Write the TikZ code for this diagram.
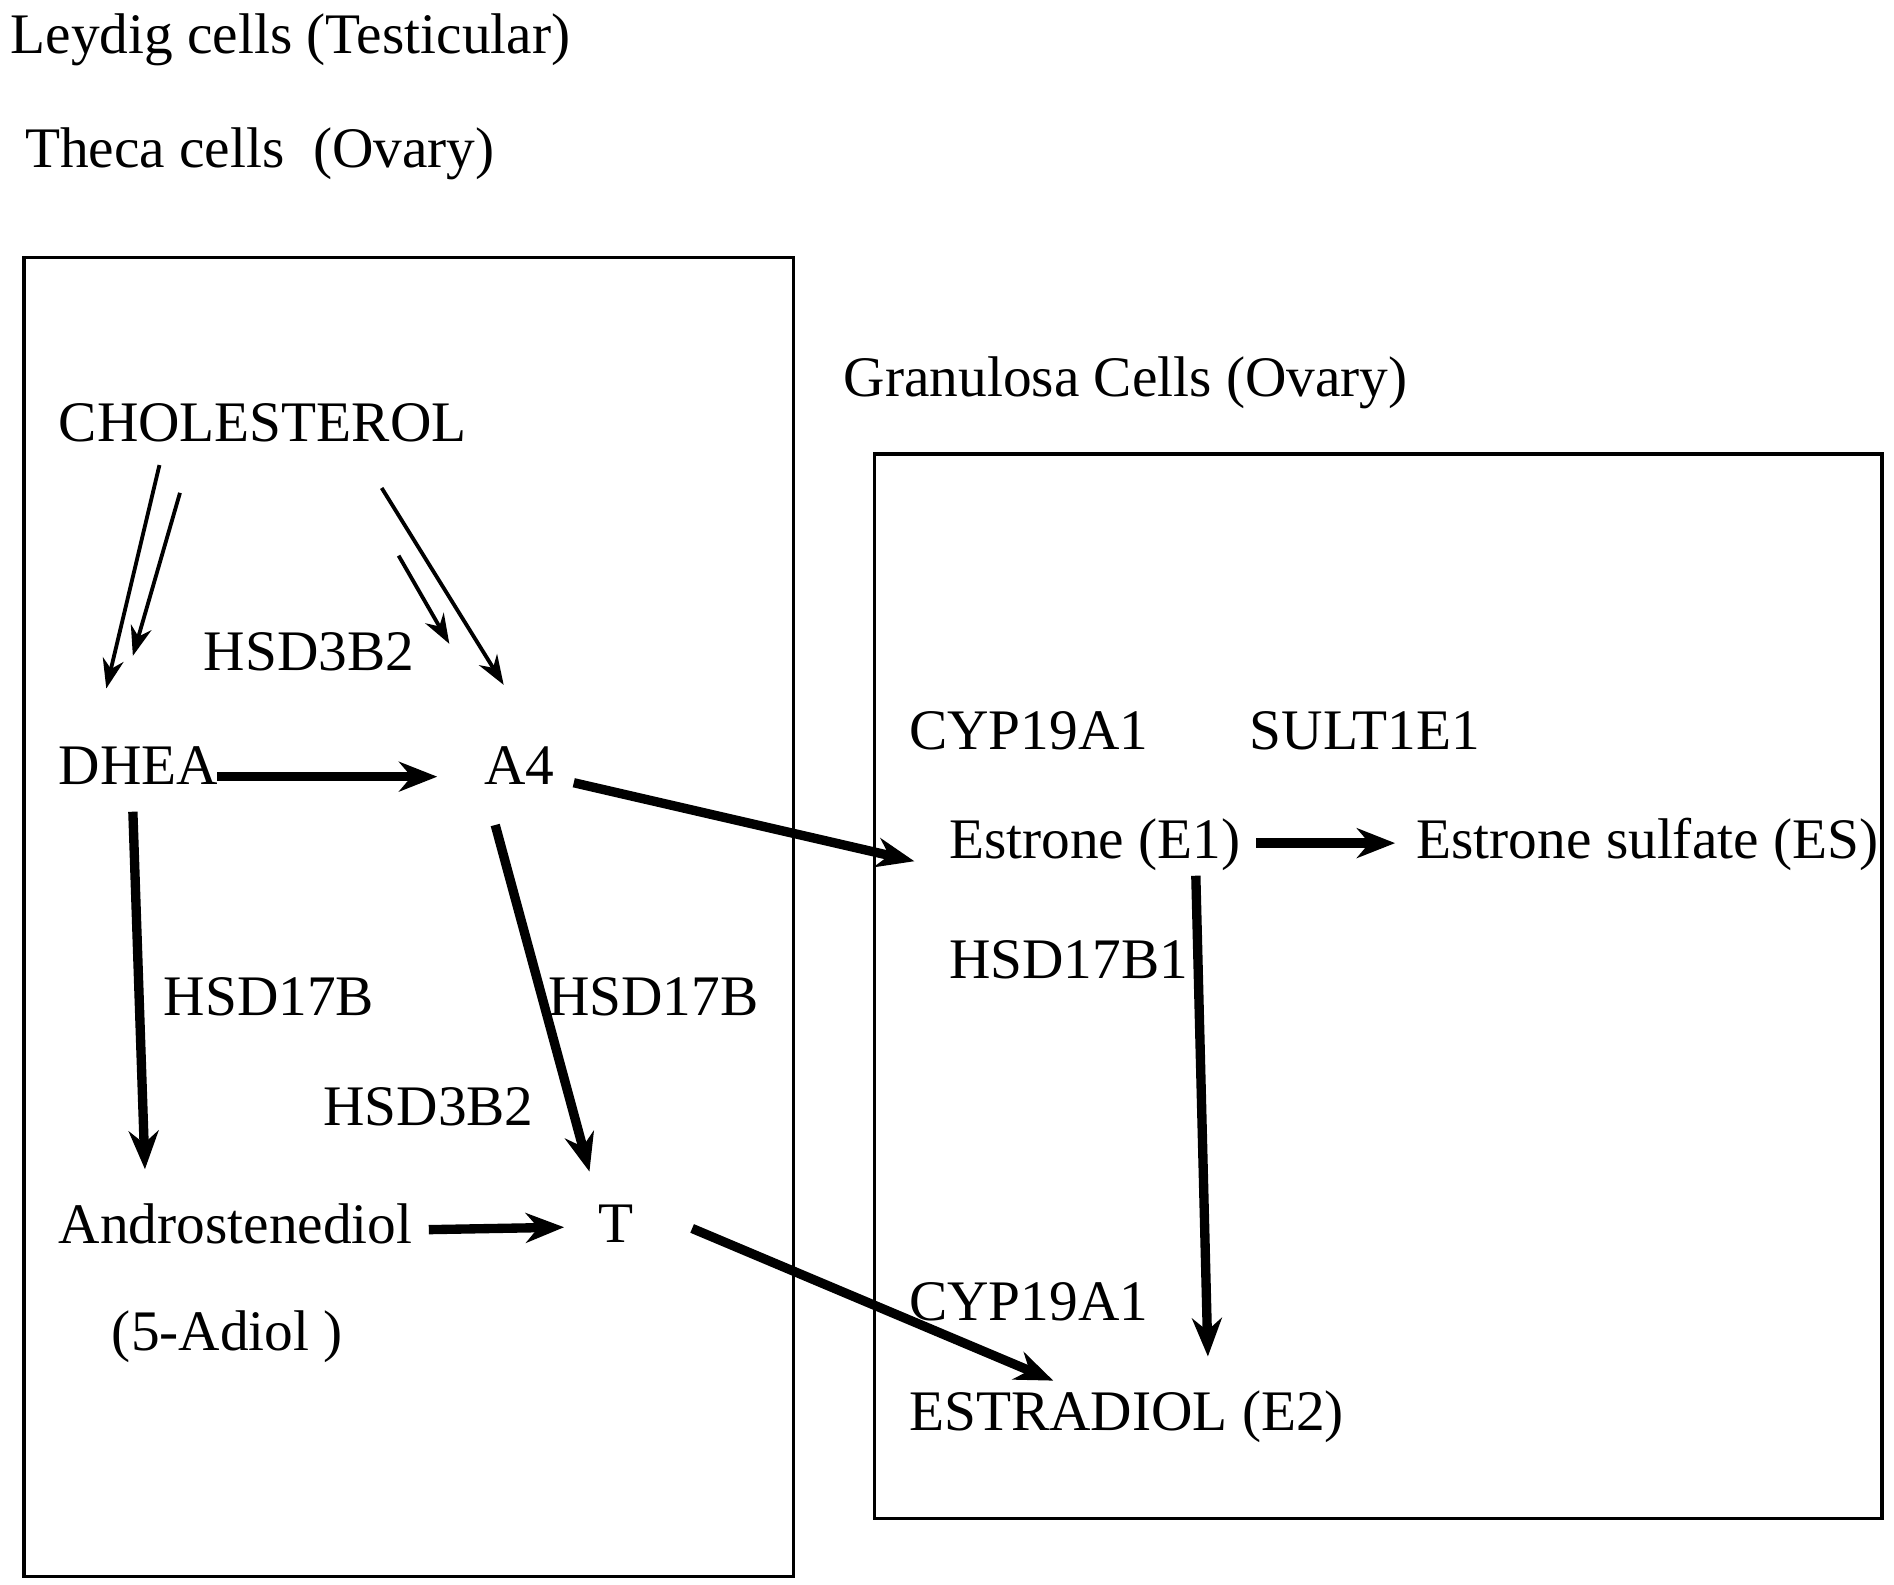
\documentclass[tikz,border=0pt]{standalone}
\usepackage{fontspec}
\setmainfont{Liberation Serif}
\usetikzlibrary{arrows.meta}
\begin{document}
\begin{tikzpicture}[x=0.01cm,y=-0.01cm,
  lbl/.style={anchor=west,inner sep=0pt,font=\fontsize{13.5}{15}\selectfont},
  thin/.style={line width=0.9pt,-{Stealth[length=7pt,width=5pt]}},
  thick/.style={line width=2.2pt,-{Stealth[length=9pt,width=7pt]}},
  box/.style={draw,line width=0.8pt}]
\useasboundingbox (0,0) rectangle (1568,1312);
\node[lbl] (leydig) at (8,33) {Leydig cells (Testicular)};
\node[lbl] (theca) at (20,127) {Theca cells\ \ (Ovary)};
\draw[box] (20,213) rectangle (657,1305);
\node[lbl] (gran) at (698,317) {Granulosa Cells (Ovary)};
\draw[box] (724,376) rectangle (1558,1257);
\node[lbl] (chol) at (48,350) {CHOLESTEROL};
\node[lbl] (h3a) at (168,540) {HSD3B2};
\node[lbl] (dhea) at (48,634) {DHEA};
\node[lbl] (a4) at (400,634) {A4};
\node[lbl] (h17a) at (135,825) {HSD17B};
\node[lbl] (h17b) at (453,825) {HSD17B};
\node[lbl] (h3b) at (267,916) {HSD3B2};
\node[lbl] (adiol) at (48,1013) {Androstenediol};
\node[lbl] (t) at (495,1013) {T};
\node[lbl] (adiol5) at (92,1107) {(5-Adiol )};
\node[lbl] (cyp1) at (752,605) {CYP19A1};
\node[lbl] (sult) at (1034,605) {SULT1E1};
\node[lbl] (e1) at (785,699) {Estrone (E1)};
\node[lbl] (es) at (1172,699) {Estrone sulfate (ES)};
\node[lbl] (h17c) at (785,795) {HSD17B1};
\node[lbl] (cyp2) at (752,1078) {CYP19A1};
\node[lbl] (e2) at (752,1173) {ESTRADIOL (E2)};
% connector endpoints
\coordinate (c1) at (132,385); \coordinate (d1) at (88,570);
\coordinate (c2) at (149,408); \coordinate (d2) at (110,543);
\coordinate (c3) at (316,404); \coordinate (d3) at (417,567);
\coordinate (c4) at (330,460); \coordinate (d4) at (372,533);
\draw[thin] (c1) -- (d1);
\draw[thin] (c2) -- (d2);
\draw[thin] (c3) -- (d3);
\draw[thin] (c4) -- (d4);
\coordinate (dheaR) at (180,643); \coordinate (a4L) at (362,643);
\coordinate (dheaB) at (110,672); \coordinate (adiolT) at (120,968);
\coordinate (a4B) at (410,683); \coordinate (tT) at (488,970);
\coordinate (a4R) at (475,648); \coordinate (e1L) at (757,713);
\coordinate (e1R) at (1040,698); \coordinate (esL) at (1155,698);
\coordinate (e1B) at (990,725); \coordinate (e2T) at (1000,1123);
\coordinate (adiolR) at (355,1018); \coordinate (tL) at (467,1016);
\coordinate (tR) at (573,1017); \coordinate (e2L) at (872,1143);
\draw[thick] (dheaR) -- (a4L);
\draw[thick] (dheaB) -- (adiolT);
\draw[thick] (a4B) -- (tT);
\draw[thick] (a4R) -- (e1L);
\draw[thick] (e1R) -- (esL);
\draw[thick] (e1B) -- (e2T);
\draw[thick] (adiolR) -- (tL);
\draw[thick] (tR) -- (e2L);
\end{tikzpicture}
\end{document}
